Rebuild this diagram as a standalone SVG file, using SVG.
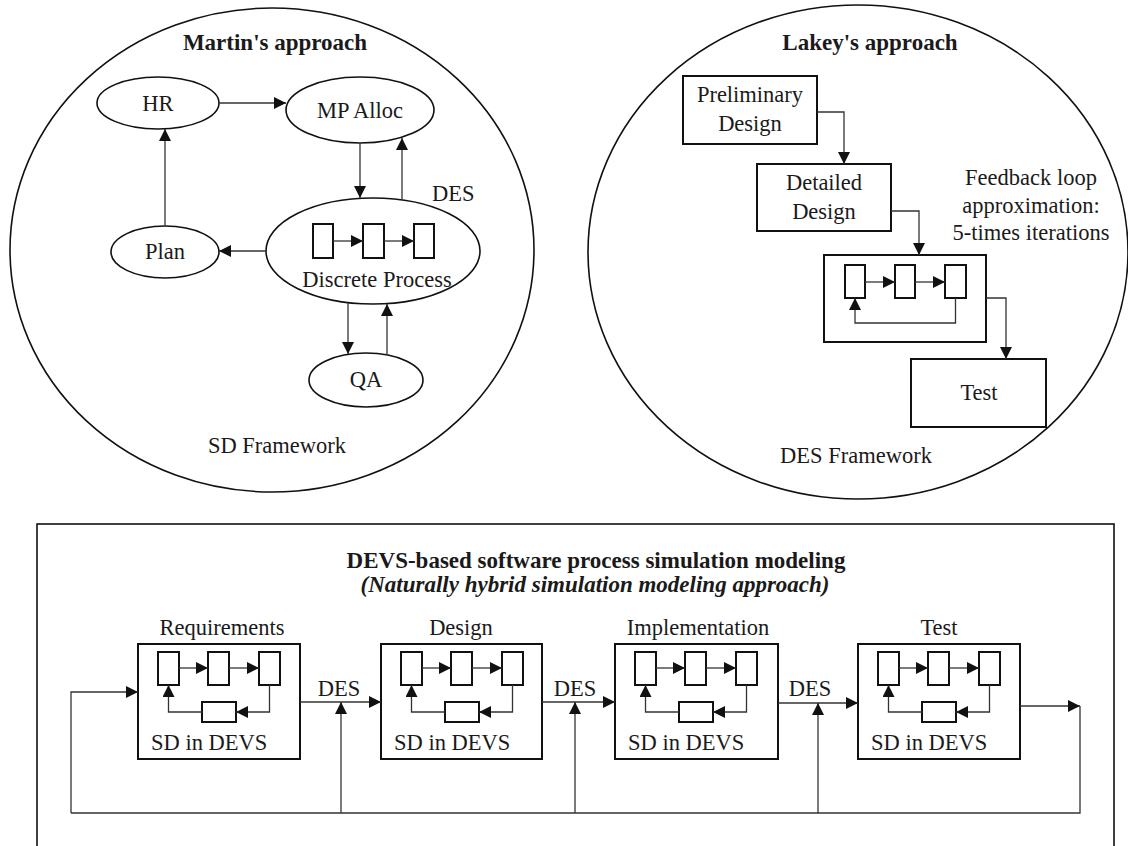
<svg xmlns="http://www.w3.org/2000/svg" width="1128" height="846" viewBox="0 0 1128 846">
<style>
text{font-family:"Liberation Serif","Times New Roman",serif;fill:#1a1a1a;font-size:22.5px}
.b{font-weight:bold;font-size:23px}
.bi{font-weight:bold;font-style:italic;font-size:23px}
.m{text-anchor:middle}
.frame{fill:none;stroke:#111;stroke-width:1.6}
.node{fill:#fff;stroke:#111;stroke-width:1.6}
.box{fill:#fff;stroke:#111;stroke-width:2}
.c{fill:none;stroke:#333;stroke-width:1.3}
.a{marker-end:url(#ah)}
</style>
<defs>
<marker id="ah" markerUnits="userSpaceOnUse" markerWidth="12" markerHeight="12" refX="12" refY="6" orient="auto">
<path d="M0,0 L12,6 L0,12 z" fill="#111"/>
</marker>
<g id="mini">
<rect class="box" x="20" y="8" width="21" height="33"/>
<rect class="box" x="70" y="8" width="21" height="33"/>
<rect class="box" x="121" y="8" width="21" height="33"/>
<rect class="box" x="64" y="58" width="34" height="20"/>
<path class="c a" d="M41,24 H70"/>
<path class="c a" d="M91,24 H121"/>
<path class="c a" d="M131.5,41 V68 H98"/>
<path class="c a" d="M64,68 H30.5 V41"/>
</g>
</defs>
<rect width="1128" height="846" fill="#fff"/>

<g id="sd-framework">
<ellipse class="frame" cx="272" cy="250" rx="262" ry="242"/>
<text class="b m" x="275" y="50">Martin's approach</text>
<text class="m" x="277" y="453">SD Framework</text>
</g>
<g id="hr"><ellipse class="node" cx="158" cy="103" rx="61" ry="26"/><text class="m" x="158" y="111">HR</text></g>
<g id="mp-alloc"><ellipse class="node" cx="360" cy="110" rx="74" ry="33"/><text class="m" x="360" y="118">MP Alloc</text></g>
<g id="plan"><ellipse class="node" cx="165" cy="252" rx="54" ry="26"/><text class="m" x="165" y="259">Plan</text></g>
<g id="discrete-process">
<ellipse class="node" cx="373" cy="251" rx="107" ry="53"/>
<rect class="box" x="313" y="224" width="20" height="34"/>
<rect class="box" x="363" y="224" width="21" height="34"/>
<rect class="box" x="414" y="224" width="20" height="34"/>
<path class="c a" d="M333,241 H363"/>
<path class="c a" d="M384,241 H414"/>
<text class="m" x="377" y="287">Discrete Process</text>
<text x="432" y="201">DES</text>
</g>
<g id="qa"><ellipse class="node" cx="366" cy="380" rx="57" ry="27"/><text class="m" x="366" y="387">QA</text></g>

<g id="des-framework">
<ellipse class="frame" cx="858" cy="252" rx="270" ry="247"/>
<text class="b m" x="870" y="50">Lakey's approach</text>
<text class="m" x="856" y="463">DES Framework</text>
<text class="m" x="1031" y="185">Feedback loop</text>
<text class="m" x="1031" y="213">approximation:</text>
<text class="m" x="1031" y="240">5-times iterations</text>
</g>
<g id="preliminary-design"><rect class="box" x="683" y="76" width="134" height="68"/><text class="m" x="750" y="102">Preliminary</text><text class="m" x="750" y="131">Design</text></g>
<g id="detailed-design"><rect class="box" x="757" y="164" width="134" height="67"/><text class="m" x="824" y="190">Detailed</text><text class="m" x="824" y="219">Design</text></g>
<g id="feedback-process">
<rect class="box" x="824" y="255" width="162" height="87"/>
<rect class="box" x="845" y="265" width="20" height="33"/>
<rect class="box" x="895" y="265" width="20" height="33"/>
<rect class="box" x="945" y="265" width="21" height="33"/>
<path class="c a" d="M865,282 H895"/>
<path class="c a" d="M915,282 H945"/>
<path class="c a" d="M955.5,298 V323 H855 V298"/>
</g>
<g id="lakey-test"><rect class="box" x="911" y="359" width="135" height="68"/><text class="m" x="979" y="400">Test</text></g>

<g id="devs-frame">
<rect class="frame" x="37" y="524" width="1077" height="330"/>
<text class="b m" x="596" y="568">DEVS-based software process simulation modeling</text>
<text class="bi m" x="595" y="592">(Naturally hybrid simulation modeling approach)</text>
</g>
<g id="requirements"><text class="m" x="222" y="635">Requirements</text><rect class="box" x="138" y="644" width="162" height="115"/><use href="#mini" x="138" y="644"/><text x="151" y="750">SD in DEVS</text></g>
<g id="design"><text class="m" x="461" y="635">Design</text><rect class="box" x="381" y="644" width="161" height="115"/><use href="#mini" x="381" y="644"/><text x="394" y="750">SD in DEVS</text></g>
<g id="implementation"><text class="m" x="698" y="635">Implementation</text><rect class="box" x="615" y="644" width="163" height="115"/><use href="#mini" x="615" y="644"/><text x="628" y="750">SD in DEVS</text></g>
<g id="test"><text class="m" x="939" y="635">Test</text><rect class="box" x="858" y="644" width="162" height="115"/><use href="#mini" x="858" y="644"/><text x="871" y="750">SD in DEVS</text></g>
<g id="des-labels">
<text class="m" x="339" y="696">DES</text>
<text class="m" x="575" y="696">DES</text>
<text class="m" x="810" y="696">DES</text>
</g>

<g id="connectors">
<path class="c a" d="M219,103 H286"/>
<path class="c a" d="M360,143 V198"/>
<path class="c a" d="M402,200 V138"/>
<path class="c a" d="M266,251 H219"/>
<path class="c a" d="M165,226 V129"/>
<path class="c a" d="M348,303 V354"/>
<path class="c a" d="M387,355 V304"/>
<path class="c a" d="M817,112 H844 V164"/>
<path class="c a" d="M891,211 H919 V255"/>
<path class="c a" d="M986,298 H1006 V359"/>
<path class="c a" d="M71,813 V692 H138"/>
<path class="c a" d="M300,702 H381"/>
<path class="c a" d="M542,702 H615"/>
<path class="c a" d="M778,703 H858"/>
<path class="c a" d="M1020,706 H1080"/>
<path class="c" d="M1080,706 V813 H71"/>
<path class="c a" d="M341,813 V702"/>
<path class="c a" d="M575,813 V702"/>
<path class="c a" d="M818,813 V703"/>
</g>
</svg>
